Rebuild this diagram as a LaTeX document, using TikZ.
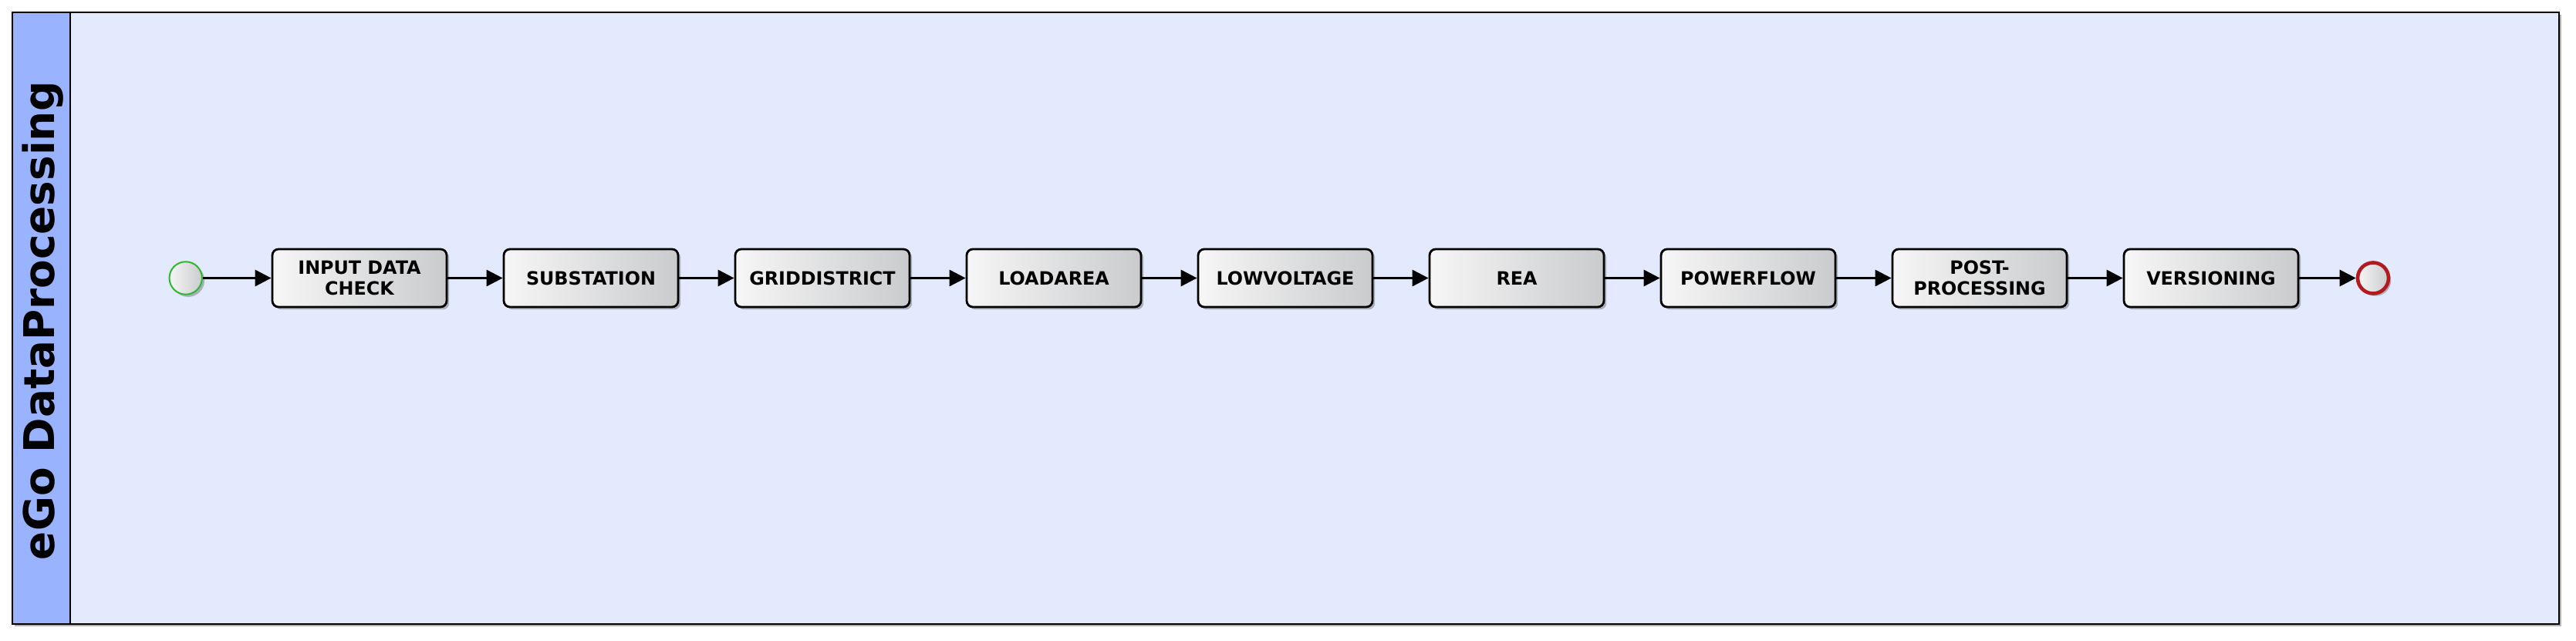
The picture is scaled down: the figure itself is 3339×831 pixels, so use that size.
\documentclass[tikz,border=0pt]{standalone}
\usepackage{fontspec}
\setmainfont{DejaVu Sans}
\usetikzlibrary{shadows,arrows.meta}
\definecolor{poolbg}{HTML}{E3EAFE}
\definecolor{headbg}{HTML}{99B3FF}
\definecolor{gradl}{HTML}{F6F6F6}
\definecolor{gradr}{HTML}{CACBCD}
\definecolor{startc}{HTML}{2EB82E}
\definecolor{endc}{HTML}{B3191F}
\begin{document}
\begin{tikzpicture}[x=0.25pt,y=-0.25pt,
  taskbox/.style={draw=black, line width=0.7pt, rounded corners=2pt,
    minimum width=56.5pt, minimum height=18.75pt, inner sep=0pt,
    left color=gradl, right color=gradr, align=center,
    font=\bfseries\fontsize{5.95}{6.9}\selectfont,
    drop shadow={shadow xshift=0.8pt, shadow yshift=-0.8pt, opacity=0.25, fill=black}},
  startev/.style={circle, draw=startc, line width=0.5pt, minimum size=10.6pt, inner sep=0pt,
    left color=gradl, right color=gradr,
    drop shadow={shadow xshift=0.8pt, shadow yshift=-0.8pt, opacity=0.25, fill=black}},
  endev/.style={circle, draw=endc, line width=1.15pt, minimum size=10pt, inner sep=0pt,
    left color=gradl, right color=gradr,
    drop shadow={shadow xshift=0.8pt, shadow yshift=-0.8pt, opacity=0.25, fill=black}},
  flow/.style={draw=black, line width=0.75pt, -{Triangle[length=5.25pt,width=5.25pt]}}
]
\useasboundingbox (0,0) rectangle (3339,831);
\fill[white] (0,0) rectangle (3339,831);
% pool
\fill[black!30] (19,19) rectangle (3320,812);
\draw[fill=poolbg, line width=0.5pt] (16,16) rectangle (3317,809);
\draw[fill=headbg, line width=0.5pt] (16,16) rectangle (91,809);
\node[rotate=90, anchor=base, inner sep=0pt, font=\bfseries\fontsize{13.7}{16}\selectfont] (title) at (70,415.5) {eGo DataProcessing};
% events and tasks
\node[startev] (s) at (240.7,360.5) {};
\node[taskbox] (t1) at (466,360.5) {INPUT DATA\\CHECK};
\node[taskbox] (t2) at (766,360.5) {SUBSTATION};
\node[taskbox] (t3) at (1066,360.5) {GRIDDISTRICT};
\node[taskbox] (t4) at (1366,360.5) {LOADAREA};
\node[taskbox] (t5) at (1666,360.5) {LOWVOLTAGE};
\node[taskbox] (t6) at (1966,360.5) {REA};
\node[taskbox] (t7) at (2266,360.5) {POWERFLOW};
\node[taskbox] (t8) at (2566,360.5) {POST-\\PROCESSING};
\node[taskbox] (t9) at (2866,360.5) {VERSIONING};
\node[endev] (e) at (3076,360.5) {};
\draw[flow] (s) -- (t1);
\draw[flow] (t1) -- (t2);
\draw[flow] (t2) -- (t3);
\draw[flow] (t3) -- (t4);
\draw[flow] (t4) -- (t5);
\draw[flow] (t5) -- (t6);
\draw[flow] (t6) -- (t7);
\draw[flow] (t7) -- (t8);
\draw[flow] (t8) -- (t9);
\draw[flow] (t9) -- (e);
\end{tikzpicture}
\end{document}
